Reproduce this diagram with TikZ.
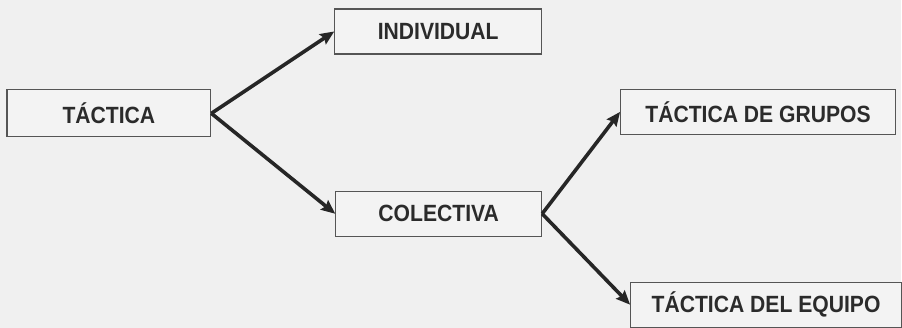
\documentclass[tikz,border=0pt]{standalone}
\usepackage{fontspec}
\setmainfont[FakeStretch=0.9]{Liberation Sans}
\usepackage{xcolor}
\usepackage{tikz}
\usetikzlibrary{arrows.meta,positioning}

\definecolor{pagebg}{HTML}{F0F0F0}
\definecolor{boxfill}{HTML}{F3F3F3}
\definecolor{boxline}{HTML}{555555}
\definecolor{inktext}{HTML}{2B2B2B}
\definecolor{inkarrow}{HTML}{262626}

\begin{document}
\begin{tikzpicture}[
   tbox/.style={draw=boxline, fill=boxfill, line width=1.2pt, inner sep=0pt,
                minimum height=45pt, text=inktext,
                font=\bfseries\fontsize{23.5}{26}\selectfont},
   link/.style={-{Stealth[length=14pt,width=12pt,inset=2pt]}, inkarrow,
                line width=3.6pt},
   node distance=120pt]
% canvas
\fill[pagebg] (0,0) rectangle (902pt,-328pt);
\node[tbox, minimum width=204pt, minimum height=47pt] (tac) at (109pt,-113.5pt) {TÁCTICA};
\node[tbox, minimum width=207pt, right=123pt of tac, yshift=82pt] (ind) {INDIVIDUAL};
\node[tbox, minimum width=206pt, right=124pt of tac, yshift=-100.5pt] (col) {COLECTIVA};
\node[tbox, minimum width=275pt, right=78pt of col, yshift=102pt] (grp) {TÁCTICA DE GRUPOS};
\node[tbox, minimum width=271pt, right=88pt of col, yshift=-91pt] (eqp) {TÁCTICA DEL EQUIPO};
\foreach \a/\b in {tac/ind,tac/col,col/grp,col/eqp}
  \draw[link] (\a.east) -- (\b.west);
\end{tikzpicture}
\end{document}
